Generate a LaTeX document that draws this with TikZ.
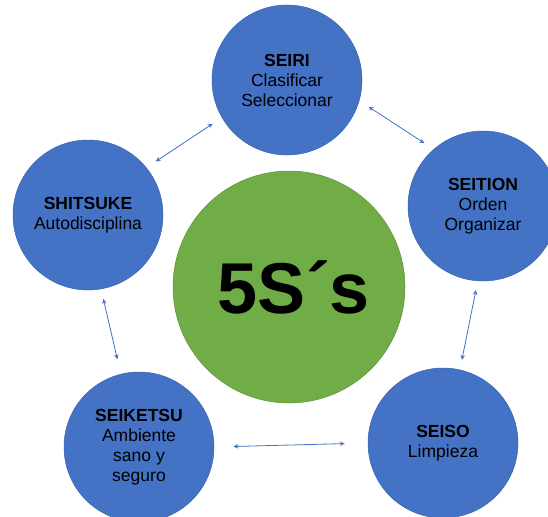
\documentclass[tikz,border=0pt]{standalone}
\usepackage{fontspec}
\setmainfont{Liberation Sans}
\usetikzlibrary{arrows.meta}
\definecolor{sblue}{HTML}{4472C4}
\definecolor{sblueline}{HTML}{3A64B0}
\definecolor{sgreen}{HTML}{70AD47}

\begin{document}
\begin{tikzpicture}[x=1pt,y=-1pt,
  ese/.style={circle,fill=sblue,draw=sblueline,line width=0.5pt,minimum size=150pt,inner sep=0pt,align=center,font=\fontsize{17.5}{20}\selectfont},
  core/.style={circle,fill=sgreen,draw=sgreen!85!black,line width=0.5pt,minimum size=232pt,inner sep=0pt,font=\fontsize{72}{72}\selectfont\bfseries},
  link/.style={{Stealth[length=5pt,width=4.5pt]}-{Stealth[length=5pt,width=4.5pt]},draw=sblue,line width=0.8pt,shorten <=11pt,shorten >=11pt}]
\useasboundingbox (0,0) rectangle (548,516);
\clip (0,0) rectangle (548,516);
\fill[white] (0,0) rectangle (548,516);
% centre
\node[core] (five) at (289,287) {\hspace*{10pt}5S´s};
% the five S
\node[ese] (seiri) at (287,80) {\textbf{SEIRI}\\Clasificar\\Seleccionar};
\node[ese] (seiton) at (483,206) {\textbf{SEITION}\\Orden\\Organizar};
\node[ese] (seiso) at (443,443) {\textbf{SEISO}\\Limpieza};
\node[ese] (seiketsu) at (139,447) {\textbf{SEIKETSU}\\Ambiente\\sano y\\seguro};
\node[ese] (shitsuke) at (88,215) {\textbf{SHITSUKE}\\Autodisciplina};
% cycle
\draw[link] (shitsuke.39) -- (seiri.210);
\draw[link] (seiri.-16) -- (seiton.131);
\draw[link,shorten <=9pt,shorten >=10pt] (seiton.266) -- (seiso.77);
\draw[link,shorten <=19pt,shorten >=23pt] (seiketsu.0) -- (seiso.180);
\draw[link,shorten <=10pt,shorten >=15pt] (shitsuke.-80) -- (seiketsu.104);
\end{tikzpicture}
\end{document}
